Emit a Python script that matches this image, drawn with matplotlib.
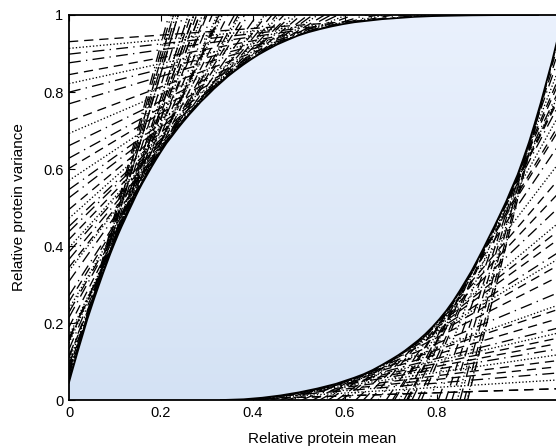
import numpy as np
import matplotlib
matplotlib.use("Agg")
import matplotlib.pyplot as plt
from matplotlib.path import Path
from matplotlib.patches import PathPatch
from matplotlib.colors import LinearSegmentedColormap

plt.rcParams['font.family'] = ['Liberation Sans', 'DejaVu Sans']

# Upper boundary of the feasible region (relative mean, relative variance)
x_upper = [0.000, 0.005, 0.010, 0.015, 0.020, 0.025, 0.030, 0.035, 0.040, 0.045,
           0.050, 0.055, 0.060, 0.065, 0.070, 0.075, 0.080, 0.085, 0.090, 0.095,
           0.100, 0.108, 0.115, 0.122, 0.130, 0.138, 0.145, 0.152, 0.160, 0.170,
           0.180, 0.190, 0.200, 0.212, 0.225, 0.237, 0.250, 0.262, 0.275, 0.287,
           0.300, 0.315, 0.330, 0.345, 0.360, 0.378, 0.395, 0.412, 0.430, 0.452,
           0.475, 0.497, 0.520, 0.545, 0.570, 0.595, 0.620, 0.650, 0.680, 0.715,
           0.750, 0.790, 0.830, 0.875, 0.920, 0.970, 1.020]
v_upper = [0.045, 0.067, 0.088, 0.109, 0.130, 0.150, 0.170, 0.190, 0.210, 0.228,
           0.246, 0.264, 0.281, 0.298, 0.315, 0.332, 0.348, 0.364, 0.380, 0.395,
           0.410, 0.433, 0.452, 0.470, 0.491, 0.511, 0.529, 0.546, 0.564, 0.585,
           0.606, 0.626, 0.645, 0.667, 0.687, 0.706, 0.725, 0.742, 0.759, 0.775,
           0.790, 0.808, 0.824, 0.840, 0.854, 0.870, 0.884, 0.897, 0.909, 0.923,
           0.935, 0.946, 0.955, 0.963, 0.970, 0.976, 0.981, 0.985, 0.989, 0.992,
           0.995, 0.997, 0.998, 0.999, 0.9995, 1.000, 1.000]

# Lower boundary of the feasible region
x_lower = [0.330, 0.355, 0.380, 0.400, 0.420, 0.440, 0.460, 0.480, 0.500, 0.520,
           0.540, 0.560, 0.580, 0.600, 0.620, 0.640, 0.660, 0.680, 0.700, 0.715,
           0.730, 0.745, 0.760, 0.775, 0.790, 0.805, 0.820, 0.835, 0.850, 0.862,
           0.875, 0.887, 0.900, 0.912, 0.925, 0.937, 0.950, 0.962, 0.975, 0.987,
           1.000, 1.012, 1.025, 1.037, 1.050, 1.062, 1.075]
v_lower = [0.000, 0.001, 0.002, 0.004, 0.006, 0.009, 0.012, 0.016, 0.020, 0.025,
           0.030, 0.036, 0.042, 0.050, 0.058, 0.067, 0.078, 0.091, 0.105, 0.116,
           0.128, 0.142, 0.156, 0.172, 0.190, 0.210, 0.232, 0.257, 0.285, 0.309,
           0.335, 0.362, 0.392, 0.421, 0.452, 0.482, 0.515, 0.549, 0.585, 0.625,
           0.670, 0.717, 0.770, 0.823, 0.880, 0.938, 1.000]

x_ticks = [0, 0.2, 0.4, 0.6, 0.8]
x_ticklabels = ['0', '0.2', '0.4', '0.6', '0.8']
y_ticks = [0, 0.2, 0.4, 0.6, 0.8, 1.0]
y_ticklabels = ['0', '0.2', '0.4', '0.6', '0.8', '1']

XMAX = 1.1

fig = plt.figure(figsize=(5.56, 4.48), dpi=100)
ax = fig.add_axes([69/556, 48/448, 506/556, 385/448])

xu = np.asarray(x_upper); vu = np.asarray(v_upper)
xl = np.asarray(x_lower); vl = np.asarray(v_lower)
su = np.gradient(vu, xu)
sl = np.gradient(vl, xl)

DASHDOT = (0, (9, 4, 1, 4))
DOTTED = (0, (1, 1.6))
DASHED = (0, (7, 4.5))
upper_styles = [DASHDOT, DASHDOT, DOTTED, DASHED]
lower_styles = [DASHED, DASHED, DOTTED, DASHDOT]

LW = 0.95
# tangent lines above the upper boundary, drawn from the left axis
for i, (t, f, s) in enumerate(zip(xu, vu, su)):
    if s < 0.08:
        continue
    xs = np.array([0.0, XMAX])
    ax.plot(xs, f + s * (xs - t), color='k', lw=LW,
            linestyle=upper_styles[i % len(upper_styles)], zorder=2)
# tangent lines below the lower boundary, drawn from the bottom axis
for i, (t, f, s) in enumerate(zip(xl, vl, sl)):
    x_start = t - f / s if s > 1e-6 else 0.0
    xs = np.array([max(x_start, 0.0), XMAX])
    ax.plot(xs, f + s * (xs - t), color='k', lw=LW,
            linestyle=lower_styles[i % len(lower_styles)], zorder=2)

# feasible region with light blue vertical gradient
poly_x = np.concatenate([[0.0], xu, xl[::-1]])
poly_y = np.concatenate([[0.0], vu, vl[::-1]])
path = Path(np.column_stack([poly_x, poly_y]), closed=False)
patch = PathPatch(path, facecolor='none', edgecolor='none', transform=ax.transData)
ax.add_patch(patch)
cmap = LinearSegmentedColormap.from_list('bl', ['#d4e2f4', '#eaf1fd'])
grad = np.linspace(0, 1, 256).reshape(-1, 1)
im = ax.imshow(grad, extent=[0, XMAX, 0, 1], origin='lower', aspect='auto',
               cmap=cmap, zorder=3, interpolation='bilinear')
im.set_clip_path(patch)

ax.plot(xu, vu, color='k', lw=1.2, zorder=4)
ax.plot(xl, vl, color='k', lw=1.2, zorder=4)

ax.set_xlim(0, XMAX)
ax.set_ylim(0, 1)
ax.set_xticks(x_ticks)
ax.set_xticklabels(x_ticklabels)
ax.set_yticks(y_ticks)
ax.set_yticklabels(y_ticklabels)
ax.tick_params(direction='in', top=True, right=True, length=4, width=0.8,
               labelsize=10.5, pad=4)
for sp in ax.spines.values():
    sp.set_linewidth(1.3)
    sp.set_zorder(6)

ax.set_xlabel('Relative protein mean', fontsize=11, labelpad=9)
ax.set_ylabel('Relative protein variance', fontsize=11, labelpad=12)

fig.savefig('out.png', dpi=100)
